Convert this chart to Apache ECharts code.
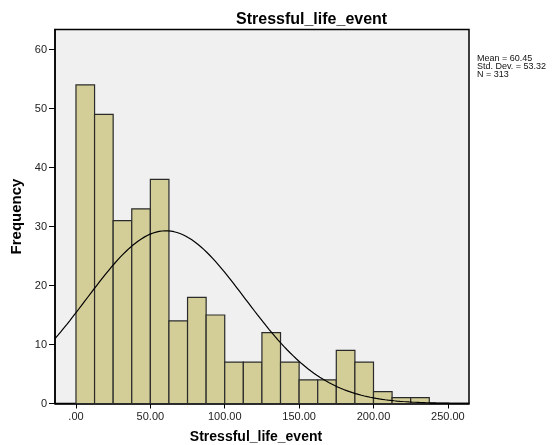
<!DOCTYPE html>
<html>
<head>
<meta charset="utf-8">
<script src="https://cdn.jsdelivr.net/npm/echarts@6/dist/echarts.min.js"></script>
<style>
  html, body { margin: 0; padding: 0; background: #fff; }
  #chart { width: 557px; height: 445px; }
</style>
</head>
<body>
<div id="chart"></div>
<script>
// Histogram of Stressful_life_event with fitted normal curve
const binStarts = [0, 12.5, 25, 37.5, 50, 62.5, 75, 87.5, 100, 112.5, 125, 137.5, 150, 162.5, 175, 187.5, 200, 212.5, 225];
const binWidth = 12.5;
const counts = [54, 49, 31, 33, 38, 14, 18, 15, 7, 7, 12, 7, 4, 4, 9, 7, 2, 1, 1];
const xTicks = [0, 50, 100, 150, 200, 250];
const yTicks = [0, 10, 20, 30, 40, 50, 60];
const mean = 60.45;
const stdDev = 53.32;
const n = 313;

const xMin = -14.1, xMax = 264.2;
const yMin = 0, yMax = 63.4;

// Normal density scaled to counts per bin, from the stated mean / sd / N
const curve = [];
for (let x = xMin; x <= xMax + 0.001; x += 1) {
  const z = (x - mean) / stdDev;
  const y = n * binWidth * Math.exp(-0.5 * z * z) / (stdDev * Math.sqrt(2 * Math.PI));
  curve.push([x, y]);
}

const bars = binStarts.map((s, i) => [s, s + binWidth, counts[i]]);

const font = 'Liberation Sans, Arial, sans-serif';
const chart = echarts.init(document.getElementById('chart'), null, { renderer: 'canvas' });

chart.setOption({
  animation: false,
  backgroundColor: '#ffffff',
  title: {
    text: 'Stressful_life_event',
    left: 231,
    top: 7,
    textStyle: { fontFamily: font, fontSize: 16, fontWeight: 'bold', color: '#000' }
  },
  grid: {
    left: 55, right: 88, top: 29.5, bottom: 41.5,
    outerBoundsMode: 'none',
    containLabel: false,
    show: true,
    backgroundColor: '#f0f0f0',
    borderColor: '#000',
    borderWidth: 1.5
  },
  xAxis: {
    type: 'value',
    min: xMin, max: xMax,
    name: 'Stressful_life_event',
    nameLocation: 'middle',
    nameGap: 27,
    nameTextStyle: { fontFamily: font, fontSize: 14, fontWeight: 'bold', color: '#000', padding: [0, 12, 0, 0] },
    axisLine: { show: true, onZero: false, lineStyle: { color: '#000', width: 1.5 } },
    axisTick: { show: true, inside: false, length: 5, customValues: xTicks, lineStyle: { color: '#000', width: 1 } },
    axisLabel: {
      customValues: xTicks,
      margin: 8,
      fontFamily: font, fontSize: 11, color: '#222',
      formatter: v => v === 0 ? '.00' : v.toFixed(2)
    },
    splitLine: { show: false }
  },
  yAxis: {
    type: 'value',
    min: yMin, max: yMax,
    name: 'Frequency',
    nameLocation: 'middle',
    nameGap: 28,
    nameTextStyle: { fontFamily: font, fontSize: 15, fontWeight: 'bold', color: '#000' },
    axisLine: { show: true, onZero: false, lineStyle: { color: '#000', width: 1.5 } },
    axisTick: { show: true, inside: false, length: 6, customValues: yTicks, lineStyle: { color: '#000', width: 1 } },
    axisLabel: {
      customValues: yTicks,
      margin: 8,
      fontFamily: font, fontSize: 11, color: '#222'
    },
    splitLine: { show: false }
  },
  series: [
    {
      type: 'custom',
      data: bars,
      encode: { x: [0, 1], y: 2 },
      renderItem: function (params, api) {
        const p0 = api.coord([api.value(0), api.value(2)]);
        const p1 = api.coord([api.value(1), 0]);
        return {
          type: 'rect',
          shape: { x: p0[0], y: p0[1], width: p1[0] - p0[0], height: p1[1] - p0[1] },
          style: { fill: '#d3ce98', stroke: '#2a2a2a', lineWidth: 1.2 }
        };
      },
      z: 2
    },
    {
      type: 'line',
      data: curve,
      showSymbol: false,
      smooth: false,
      clip: true,
      lineStyle: { color: '#000', width: 1.2 },
      z: 3
    }
  ],
  graphic: [
    {
      type: 'text',
      left: 477,
      top: 54,
      style: {
        text: 'Mean = ' + mean.toFixed(2) + '\nStd. Dev. = ' + stdDev.toFixed(2) + '\nN = ' + n,
        font: '9px ' + font,
        lineHeight: 8,
        fill: '#111'
      }
    }
  ]
});
</script>
</body>
</html>
